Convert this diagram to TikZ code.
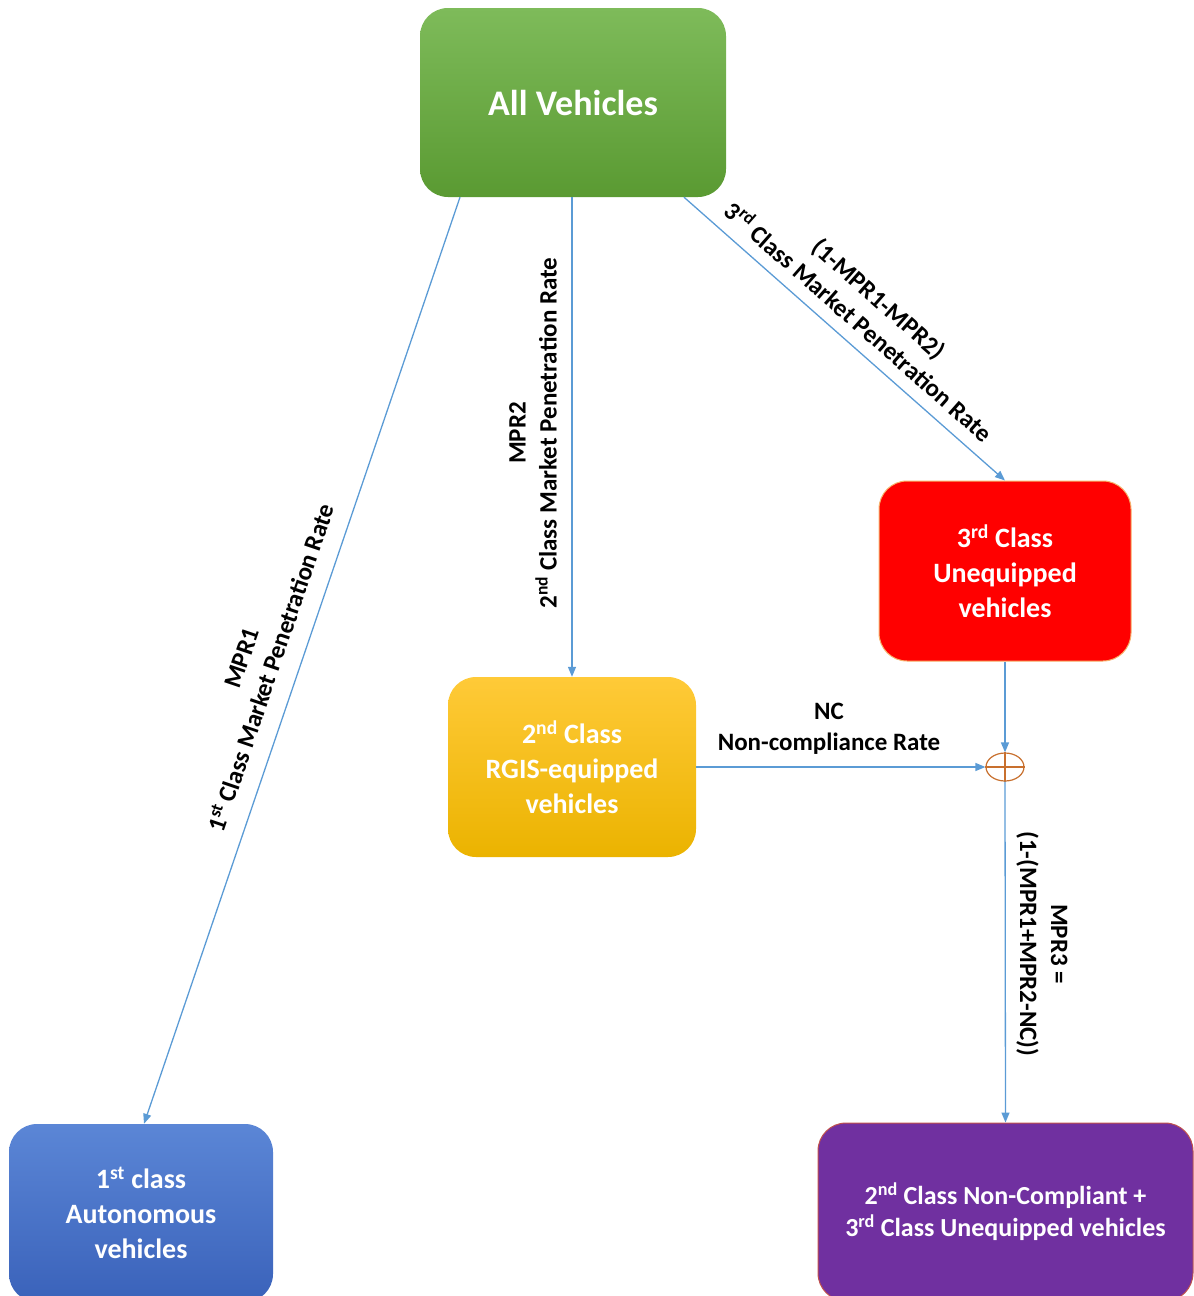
\documentclass[tikz,border=0pt]{standalone}
\usepackage{fontspec}
\setmainfont{Carlito}
\usetikzlibrary{arrows.meta,shapes.geometric}
\definecolor{connblue}{HTML}{5B9BD5}
\definecolor{greenT}{HTML}{7EBB5A}
\definecolor{greenB}{HTML}{5A9A32}
\definecolor{redF}{HTML}{FF0000}
\definecolor{redD}{HTML}{F6B26B}
\definecolor{yelT}{HTML}{FFCA38}
\definecolor{yelB}{HTML}{EBB300}
\definecolor{bluT}{HTML}{5B86D6}
\definecolor{bluB}{HTML}{3A62BA}
\definecolor{purF}{HTML}{7030A0}
\definecolor{purD}{HTML}{C0504D}
\definecolor{sumC}{HTML}{C8702E}
\begin{document}
\begin{tikzpicture}[x=1pt,y=-1pt,
  box/.style={rectangle, rounded corners=28pt, align=center, text=white,
    font=\bfseries\fontsize{28}{35}\selectfont, inner sep=0pt},
  conn/.style={draw=connblue, line width=1.3pt, -{Triangle[length=10pt,width=8pt]}},
  lbl/.style={align=center, font=\bfseries\fontsize{25}{31}\selectfont, inner sep=0pt, text=black},
  sumline/.style={draw=sumC, line width=1.2pt}]

\useasboundingbox (0,0) rectangle (1194,1296);
\clip (0,0) rectangle (1194,1296);

\node[box, minimum width=306pt, minimum height=189pt, top color=greenT, bottom color=greenB,
  font=\bfseries\fontsize{36}{43}\selectfont] (av) at (573,102.5) {All Vehicles};
\node[box, minimum width=252pt, minimum height=180pt, fill=redF, draw=redD, line width=1pt]
  (red) at (1005,571) {3\textsuperscript{rd} Class\\Unequipped\\vehicles};
\node[box, minimum width=248pt, minimum height=180pt, top color=yelT, bottom color=yelB]
  (yellow) at (572,767) {2\textsuperscript{nd} Class\\RGIS-equipped\\vehicles};
\node[box, minimum width=264pt, minimum height=178pt, top color=bluT, bottom color=bluB]
  (blue) at (141,1213) {1\textsuperscript{st} class\\Autonomous\\vehicles};
\node[box, minimum width=375pt, minimum height=178pt, fill=purF, draw=purD, line width=1pt,
  font=\bfseries\fontsize{26}{32}\selectfont]
  (purple) at (1005.5,1212) {2\textsuperscript{nd} Class Non-Compliant +\\3\textsuperscript{rd} Class Unequipped vehicles};

\node[ellipse, draw=sumC, line width=1.2pt, minimum width=38pt, minimum height=28pt, inner sep=0pt]
  (sum) at (1005,767) {};
\draw[sumline] (sum.north) -- (sum.south) (sum.west) -- (sum.east);

\draw[conn] ([xshift=-113pt]av.south) -- ([xshift=3pt]blue.north);
\draw[conn] ([xshift=-1pt]av.south) -- (yellow.north);
\draw[conn] ([xshift=111pt]av.south) -- (red.north);
\draw[conn] (red.south) -- (sum.north);
\draw[conn] (yellow.east) -- (sum.west);
\draw[conn] (sum.south) -- (purple.north);

\node[lbl, rotate=71.2] (l1) at (257,663) {MPR1\\1\textsuperscript{st} Class Market Penetration Rate};
\node[lbl, rotate=90] (l2) at (533,433) {MPR2\\2\textsuperscript{nd} Class Market Penetration Rate};
\node[lbl, rotate=-41.4] (l3) at (869,310) {(1-MPR1-MPR2)\\3\textsuperscript{rd} Class Market Penetration Rate};
\node[lbl] (l4) at (829,729) {NC\\Non-compliance Rate};
\node[lbl, rotate=-90] (l5) at (1042,944) {MPR3 =\\(1-(MPR1+MPR2-NC))};
\end{tikzpicture}
\end{document}
